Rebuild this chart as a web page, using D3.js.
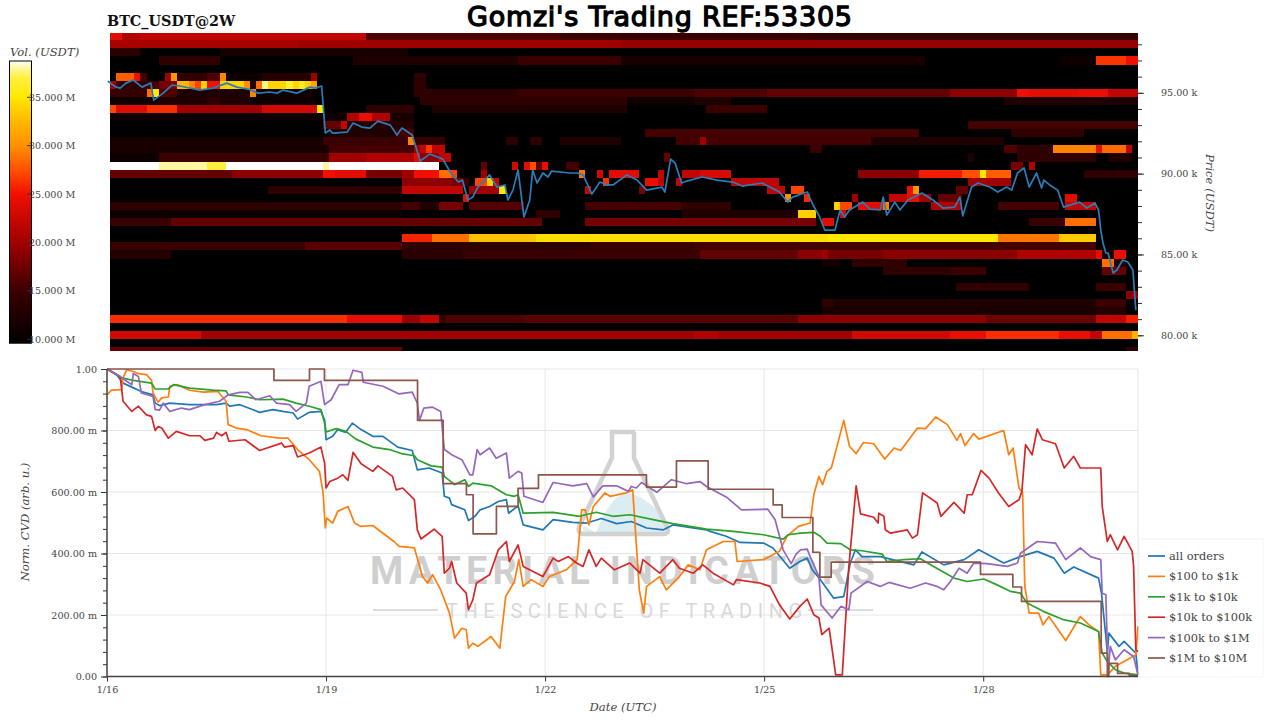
<!DOCTYPE html>
<html>
	<head>
		<meta charset="utf-8">
		<script src="https://cdn.jsdelivr.net/npm/d3@7"></script>
		<style>
			html, body { margin: 0; padding: 0; background: #fff; }
			text { font-family: "DejaVu Serif"; fill: #444; }
			.domain { display: none; }
			.tick line { stroke: #333; }
		</style>
	</head>
	<body> <svg width="1280" height="720"></svg> </body>

	<script>
		// x values are days since 1/16 UTC, y values are normalised CVD
		var xTicks = [0, 3, 6, 9, 12],
			xTickLabels = ["1/16", "1/19", "1/22", "1/25", "1/28"],
			cvdTicks = [0, 0.2, 0.4, 0.6, 0.8, 1],
			cvdTickLabels = ["0.00", "200.00 m", "400.00 m", "600.00 m", "800.00 m", "1.00"],
			priceTicks = [80, 85, 90, 95],
			priceTickLabels = ["80.00 k", "85.00 k", "90.00 k", "95.00 k"],
			volTicks = [10, 15, 20, 25, 30, 35],
			volTickLabels = ["10.000 M", "15.000 M", "20.000 M", "25.000 M", "30.000 M", "35.000 M"];

		var seriesNames = ["all orders", "$100 to $1k", "$1k to $10k", "$10k to $100k", "$100k to $1M", "$1M to $10M"],
			seriesColors = ["#1f77b4", "#ff7f0e", "#2ca02c", "#d62728", "#9467bd", "#8c564b"];

		var allOrders = [[0,1],[.13,.982],[.22,.954],[.34,.941],[.47,.927],[.63,.916],[.66,.889],[.72,.881],[.86,.889],[1.13,.884],[1.5,.884],[1.63,.889],[1.68,.879],[1.82,.884],[2.09,.859],[2.27,.868],[2.41,.862],[2.55,.857],[2.61,.837],[2.77,.859],[2.93,.862],[2.98,.835],[3,.77],[3.09,.781],[3.16,.803],[3.27,.794],[3.36,.824],[3.48,.803],[3.64,.781],[3.78,.781],[3.98,.746],[4.18,.735],[4.25,.672],[4.41,.678],[4.59,.662],[4.62,.586],[4.69,.58],[4.72,.559],[4.9,.542],[4.95,.507],[5.04,.521],[5.11,.542],[5.24,.553],[5.36,.569],[5.47,.575],[5.5,.531],[5.63,.555],[5.7,.493],[5.97,.477],[6.11,.51],[6.38,.501],[6.57,.499],[6.77,.514],[6.98,.497],[7.18,.504],[7.39,.483],[7.62,.477],[7.75,.493],[8.21,.477],[8.26,.472],[8.48,.456],[8.67,.436],[8.99,.434],[9.12,.418],[9.35,.352],[9.49,.374],[9.59,.385],[9.66,.347],[9.77,.315],[9.95,.255],[10.09,.26],[10.18,.369],[10.25,.412],[10.34,.39],[10.59,.39],[11.05,.363],[11.16,.405],[11.46,.363],[11.74,.38],[11.94,.412],[12.28,.369],[12.51,.39],[12.74,.407],[12.97,.385],[13.11,.336],[13.24,.356],[13.58,.32],[13.62,.271],[13.68,.13],[13.7,.076],[13.72,.141],[13.86,.098],[13.93,.114],[14.09,.076],[14.12,.005]];

		var retail = [[0,.916],[.06,.931],[.2,.933],[.22,.971],[.27,.998],[.36,.992],[.43,.985],[.54,.982],[.61,.963],[.63,.922],[.7,.892],[.75,.906],[.84,.909],[.86,.944],[.97,.949],[1.13,.931],[1.32,.925],[1.52,.927],[1.63,.895],[1.66,.819],[1.77,.808],[1.91,.803],[2.11,.783],[2.36,.775],[2.48,.775],[2.61,.738],[2.77,.705],[2.91,.667],[2.96,.597],[2.99,.483],[3.01,.515],[3.09,.499],[3.16,.537],[3.3,.553],[3.39,.499],[3.48,.488],[3.64,.491],[3.78,.466],[3.93,.439],[4,.423],[4.21,.418],[4.32,.325],[4.39,.304],[4.46,.331],[4.57,.282],[4.69,.206],[4.76,.125],[4.86,.157],[4.92,.152],[4.95,.092],[5.01,.108],[5.08,.098],[5.26,.13],[5.38,.092],[5.46,.26],[5.58,.309],[5.64,.38],[5.7,.293],[5.81,.315],[5.97,.293],[6.06,.325],[6.29,.347],[6.44,.38],[6.5,.542],[6.55,.542],[6.6,.493],[6.66,.553],[6.82,.597],[6.89,.586],[7.11,.597],[7.2,.607],[7.29,.282],[7.35,.206],[7.39,.293],[7.57,.325],[7.66,.282],[7.84,.325],[7.96,.363],[8.12,.347],[8.21,.412],[8.44,.439],[8.6,.439],[8.63,.374],[8.99,.38],[9.21,.407],[9.31,.456],[9.47,.488],[9.63,.499],[9.68,.591],[9.75,.651],[9.8,.624],[9.86,.667],[9.92,.678],[10.09,.833],[10.17,.748],[10.26,.725],[10.36,.761],[10.5,.757],[10.65,.707],[10.78,.743],[10.87,.735],[11.1,.808],[11.21,.806],[11.35,.844],[11.51,.819],[11.64,.768],[11.69,.79],[11.75,.751],[11.87,.79],[11.94,.772],[12.28,.8],[12.35,.721],[12.41,.743],[12.49,.613],[12.54,.597],[12.57,.293],[12.63,.206],[12.76,.206],[12.82,.168],[12.9,.195],[13.13,.117],[13.33,.195],[13.45,.168],[13.58,.146],[13.61,.005],[13.7,.005],[13.81,.033],[13.93,.049],[14.09,.071],[14.12,.163]];

		var small = [[0,1],[.2,.971],[.36,.963],[.61,.954],[.66,.935],[.84,.935],[.91,.949],[1.13,.938],[1.45,.931],[1.63,.929],[1.66,.916],[1.91,.909],[2.09,.9],[2.41,.902],[2.59,.889],[2.77,.879],[2.93,.868],[2.98,.824],[3,.795],[3.14,.806],[3.27,.797],[3.41,.772],[3.64,.746],[3.87,.738],[4.03,.725],[4.21,.718],[4.25,.705],[4.44,.685],[4.59,.681],[4.62,.651],[4.76,.624],[4.9,.64],[4.95,.618],[5.01,.629],[5.26,.62],[5.47,.591],[5.58,.586],[5.63,.591],[5.7,.531],[6.11,.534],[6.47,.521],[6.7,.534],[6.93,.521],[7.16,.526],[7.48,.51],[7.75,.497],[8.21,.479],[8.58,.472],[8.99,.461],[9.26,.447],[9.33,.461],[9.5,.466],[9.68,.469],[9.77,.456],[9.86,.434],[10.05,.432],[10.18,.412],[10.34,.409],[10.62,.398],[10.68,.374],[10.91,.38],[11.14,.383],[11.32,.358],[11.6,.32],[11.78,.309],[12.01,.317],[12.19,.298],[12.37,.277],[12.51,.271],[12.6,.239],[12.83,.211],[13.11,.184],[13.33,.174],[13.58,.146],[13.63,.076],[13.7,.049],[13.81,.022],[13.93,.011],[14.12,.005]];

		var medium = [[0,1],[.18,.976],[.22,.895],[.34,.862],[.43,.879],[.54,.851],[.61,.846],[.66,.8],[.7,.813],[.75,.808],[.84,.775],[.95,.797],[1.13,.783],[1.27,.783],[1.34,.768],[1.46,.775],[1.5,.794],[1.57,.783],[1.63,.794],[1.67,.765],[1.89,.77],[2.09,.735],[2.39,.759],[2.43,.746],[2.55,.751],[2.61,.714],[2.77,.727],[2.93,.746],[2.98,.694],[3,.613],[3.05,.634],[3.16,.645],[3.23,.656],[3.3,.638],[3.37,.729],[3.48,.692],[3.64,.667],[3.71,.685],[3.91,.651],[3.96,.607],[4.05,.613],[4.21,.575],[4.25,.477],[4.3,.447],[4.48,.479],[4.59,.456],[4.62,.336],[4.69,.352],[4.72,.374],[4.79,.304],[4.92,.271],[4.95,.217],[5.01,.249],[5.06,.304],[5.24,.331],[5.36,.412],[5.47,.439],[5.51,.374],[5.63,.428],[5.7,.358],[5.97,.325],[6.11,.385],[6.18,.374],[6.32,.39],[6.43,.369],[6.52,.358],[6.6,.412],[6.7,.358],[6.77,.385],[6.95,.347],[7.16,.369],[7.3,.336],[7.34,.38],[7.57,.336],[7.75,.38],[7.84,.352],[8.03,.336],[8.16,.363],[8.3,.336],[8.58,.298],[8.62,.315],[8.94,.304],[9.08,.293],[9.21,.233],[9.35,.187],[9.49,.228],[9.59,.252],[9.68,.201],[9.75,.19],[9.79,.136],[9.89,.157],[9.98,.005],[10.07,.005],[10.16,.358],[10.21,.488],[10.26,.62],[10.32,.529],[10.5,.518],[10.56,.499],[10.57,.531],[10.64,.521],[10.66,.477],[10.73,.466],[10.96,.477],[11.03,.45],[11.1,.461],[11.17,.597],[11.37,.564],[11.42,.521],[11.6,.566],[11.74,.531],[11.78,.591],[11.85,.591],[11.97,.67],[12.08,.645],[12.21,.597],[12.35,.553],[12.49,.575],[12.53,.602],[12.58,.754],[12.67,.721],[12.74,.805],[12.81,.77],[12.99,.757],[13.11,.678],[13.24,.716],[13.33,.678],[13.61,.678],[13.63,.553],[13.7,.439],[13.74,.461],[13.84,.412],[13.93,.456],[14.04,.407],[14.06,.358],[14.09,.087],[14.12,.081]];

		var large = [[0,1],[.18,.976],[.27,.96],[.34,.949],[.36,.985],[.43,.976],[.47,.922],[.63,.911],[.66,.868],[.72,.866],[.77,.889],[.86,.862],[1.02,.873],[1.13,.868],[1.34,.884],[1.54,.895],[1.66,.916],[1.82,.924],[1.93,.924],[2.04,.9],[2.23,.913],[2.32,.889],[2.5,.884],[2.59,.862],[2.73,.889],[2.77,.944],[2.93,.96],[2.98,.884],[3.07,.9],[3.18,.949],[3.3,.949],[3.37,.996],[3.49,.989],[3.51,.957],[3.78,.944],[4,.919],[4.18,.925],[4.25,.889],[4.28,.833],[4.34,.873],[4.46,.876],[4.57,.862],[4.62,.738],[4.69,.727],[4.72,.721],[4.86,.705],[4.97,.656],[5.01,.656],[5.07,.738],[5.11,.721],[5.24,.743],[5.33,.71],[5.47,.727],[5.51,.645],[5.63,.667],[5.68,.662],[5.71,.586],[5.97,.566],[6.11,.631],[6.38,.62],[6.57,.627],[6.66,.584],[6.79,.62],[6.98,.62],[7.14,.602],[7.18,.618],[7.25,.613],[7.32,.631],[7.53,.599],[7.73,.64],[7.94,.627],[8.12,.634],[8.21,.618],[8.48,.584],[8.69,.542],[9.05,.544],[9.15,.51],[9.26,.412],[9.37,.367],[9.44,.399],[9.5,.412],[9.59,.414],[9.63,.39],[9.75,.325],[9.78,.233],[9.93,.19],[10.05,.228],[10.16,.217],[10.19,.271],[10.41,.309],[10.59,.293],[10.71,.306],[11,.287],[11.21,.304],[11.37,.293],[11.46,.282],[11.55,.309],[11.67,.352],[11.78,.336],[11.87,.369],[12.05,.367],[12.33,.358],[12.47,.369],[12.51,.401],[12.74,.439],[12.99,.434],[13.13,.38],[13.33,.418],[13.47,.39],[13.61,.38],[13.63,.271],[13.68,.266],[13.71,.005],[13.74,.098],[13.81,.054],[13.93,.087],[14.06,.065],[14.12,.005]];

		// brown one is stepped, each pair holds until the next one
		var whale = [[0,1],[2.286,.963],[2.773,1],[2.978,.963],[4.253,.833],[4.604,.627],[4.922,.591],[5.014,.464],[5.333,.553],[5.63,.612],[5.909,.656],[7.388,.616],[7.799,.701],[8.233,.609],[9.123,.558],[9.247,.517],[9.667,.404],[9.763,.323],[9.918,.372],[11.963,.332],[12.406,.291],[12.525,.244],[13.616,.076],[13.7,0],[13.72,.043],[13.84,.01],[14,.003],[14.12,.003]];

		var seriesValues = [allOrders, retail, small, medium, large, whale];

		var priceLine = [[.01,95.73],[.11,95.38],[.18,95.29],[.26,95.6],[.36,95.79],[.48,95.35],[.6,95.6],[.64,94.55],[.77,94.98],[.89,95.48],[1,95.42],[1.27,95.17],[1.45,95.29],[1.64,95.6],[1.78,95.35],[1.93,95.23],[2.07,94.98],[2.23,95.05],[2.33,94.98],[2.41,95.17],[2.6,94.98],[2.78,95.35],[2.85,95.29],[2.94,95.42],[2.99,92.51],[3.05,92.7],[3.09,92.51],[3.29,92.57],[3.37,93.13],[3.49,92.88],[3.6,92.82],[3.71,93.25],[3.88,93],[3.97,92.39],[4.04,92.82],[4.18,92.39],[4.29,90.78],[4.42,91.21],[4.6,90.9],[4.7,90.1],[4.81,89.48],[4.87,89.6],[4.94,88.37],[5.01,88.55],[5.07,89.11],[5.24,89.92],[5.34,89.17],[5.45,89.3],[5.49,88.37],[5.56,88.98],[5.63,90.22],[5.71,87.32],[5.79,88.37],[5.83,90.22],[5.89,89.42],[5.97,90.04],[6.04,89.79],[6.09,90.16],[6.34,90.04],[6.44,90.04],[6.52,89.92],[6.64,88.74],[6.75,89.48],[6.85,89.3],[6.93,89.3],[7.12,89.92],[7.26,89.6],[7.39,88.98],[7.6,89.17],[7.64,88.86],[7.72,90.9],[7.78,90.65],[7.87,89.42],[7.94,89.54],[8.15,89.79],[8.35,89.6],[8.57,89.48],[8.7,89.23],[8.97,89.42],[9.21,88.86],[9.32,88.24],[9.39,88.55],[9.59,88.86],[9.67,88.06],[9.76,87.32],[9.83,86.51],[9.97,86.51],[10.04,87.75],[10.1,87.32],[10.17,87.75],[10.35,88.24],[10.45,87.81],[10.59,87.75],[10.63,88.55],[10.68,87.44],[10.79,88.24],[10.86,87.75],[10.97,88.37],[11.16,88.8],[11.31,88.37],[11.45,87.87],[11.61,87.93],[11.68,88.55],[11.72,87.38],[11.84,89.17],[11.93,89.42],[12.09,89.17],[12.2,88.86],[12.32,89.17],[12.39,88.98],[12.47,90.04],[12.56,90.35],[12.63,89.17],[12.73,90.04],[12.8,89.11],[12.83,89.6],[12.91,89.3],[13.02,88.98],[13.1,87.93],[13.32,88.24],[13.42,87.87],[13.53,88.18],[13.58,87.75],[13.61,86.51],[13.64,85.71],[13.68,85.09],[13.71,85.09],[13.78,83.85],[13.83,84.04],[13.91,84.66],[13.98,84.53],[14.05,84.04],[14.09,81.56]];

		// heat rows, 500 USD high. Each run is [2h column it starts on, volume in M], holds until next run
		var rowPrices = [98.5, 98, 97.5, 97, 96.5, 96, 95.5, 95, 94.5, 94, 93.5, 93, 92.5, 92, 91.5, 91, 90.5, 90, 89.5, 89, 88.5, 88, 87.5, 87, 86.5, 86, 85.5, 85, 84.5, 84, 83.5, 83, 82.5, 82, 81.5, 81, 80.5, 80, 79.5, 79];

		var rowRuns = [
			[[0,24],[2,21],[5,22],[42,16],[74,15],[115,14.5]],
			[[0,20.5],[31,20],[84,19.5]],
			[[0,13.5],[5,10],[18,12],[49,10]],
			[[0,10],[8,14],[18,10],[40,12.5],[67,15],[84,12],[134,10],[156,11],[162,26.5],[167,25]],
			[[0,10]],
			[[0,10],[1,28],[4,25],[5,15.5],[6,10],[9,20],[10,30.5],[11,14],[16,16],[18,29.5],[19,11],[25,13],[33,20],[34,10],[50,14],[52,10]],
			[[0,20],[1,14],[6,15.5],[8,18],[11,32.5],[13,29.5],[14,27],[15,33.8],[16,25],[18,34],[22,30],[23,12.5],[24,28.7],[25,37.8],[26,34],[29,36.5],[30,34],[31,36],[32,34],[33,31],[34,10],[50,14],[52,10]],
			[[0,14.5],[6,28.7],[7,35.5],[8,16],[11,12.5],[23,29.5],[24,11],[34,10],[50,14],[53,13.5],[67,15],[96,16],[108,17],[138,19],[149,24.8],[151,24],[159,24.5],[164,22]],
			[[0,11],[8,12.5],[16,14],[18,12.5],[23,11],[34,10],[51,14],[85,11],[96,12.5],[102,10],[147,12.5]],
			[[0,27.2],[1,24],[6,26.2],[11,20],[25,23],[34,35],[35,10],[42,14],[50,10],[53,12.5],[85,10],[98,15],[108,10]],
			[[0,11],[39,21],[41,24.5],[43,21],[46,12],[50,10]],
			[[0,10],[35,17],[38,22],[39,13],[50,10],[141,15.5]],
			[[0,10],[36,12.5],[47,15.5],[50,10],[88,15.5],[133,10],[148,14],[160,10]],
			[[0,12],[35,15],[49,29.5],[50,14.5],[55,10],[65,14],[67,10],[69,14],[71,10],[74,12.5],[84,10],[93,15.5],[97,20],[98,15.5],[125,12.5],[147,10]],
			[[0,12],[36,15.5],[50,20],[51,22],[52,26.5],[53,22],[55,10],[115,15],[117,10],[147,16],[149,14],[155,29.5],[162,24.5],[163,28.5],[167,22],[168,10]],
			[[0,11],[8,15],[36,20],[42,21],[50,24],[51,19],[54,22],[56,10],[91,17],[92,10],[141,12.5],[142,10],[149,14],[162,10],[164,12.5],[168,10]],
			[[0,38.7],[8,38],[16,37],[19,38.7],[35,38],[36,38.7],[54,10],[61,17],[62,10],[66,23],[67,10],[68,24],[69,27.5],[70,17],[71,24.5],[72,10],[75,15.5],[77,10],[148,18],[150,10],[151,21],[152,10]],
			[[0,17],[20,19],[35,25],[37,24],[42,18],[48,20],[50,25],[54,28.7],[56,27],[57,10],[61,20],[62,10],[77,29],[78,10],[80,23],[81,10],[82,24],[87,10],[90,22],[91,10],[94,22],[97,23.5],[102,10],[123,19],[133,25.5],[140,27.5],[143,35],[144,28],[148,10],[160,14]],
			[[0,10],[48,19],[56,18],[58,15],[59,10],[60,27],[62,33.8],[63,22],[64,10],[81,26.5],[82,10],[88,24.5],[90,22],[91,10],[93,22],[94,10],[102,22],[110,10],[141,20],[148,10]],
			[[0,10],[26,14],[48,22],[58,10],[59,20],[64,35],[65,10],[78,22],[79,10],[87,18],[88,10],[108,22],[111,10],[112,27],[114,10],[131,24.5],[132,30.5],[133,10],[139,17],[141,10]],
			[[0,10],[58,24.5],[59,10],[111,30],[112,10],[114,26],[115,10],[122,20],[123,10],[128,22],[131,24.5],[133,20],[135,10],[136,17],[140,10],[157,24],[159,10]],
			[[0,14],[48,15.5],[51,12.5],[54,18],[58,10],[59,16.3],[68,10],[78,15.5],[94,14],[102,10],[119,33.8],[120,27.2],[122,10],[123,24],[127,29.5],[128,10],[135,21],[140,10],[146,15.5],[156,10],[157,22],[162,10]],
			[[0,11],[48,10],[70,14],[74,10],[94,12.5],[113,33.8],[116,10],[120,23],[121,10]],
			[[0,14.8],[10,17],[71,10],[78,18],[116,10],[117,24],[119,10],[151,14.8],[157,28.7],[162,10]],
			[[0,10]],
			[[0,10],[48,25.8],[53,28.7],[59,33],[70,34.5],[118,35],[146,29],[156,33.5],[162,10]],
			[[0,15],[32,16.5],[48,14],[79,15],[96,15.5],[162,10]],
			[[0,13],[10,10],[48,13.5],[58,15],[97,17],[113,19],[117,20],[118,18],[127,19],[149,21],[162,24],[163,12],[165,24.5],[167,10]],
			[[0,10],[117,11.5],[120,10],[122,14],[131,10],[163,28.7],[165,13],[167,10]],
			[[0,10],[127,14],[138,15],[144,10],[163,17],[167,10]],
			[[0,10]],
			[[0,10],[139,14],[151,10],[162,15],[167,10]],
			[[0,10],[167,19]],
			[[0,10],[117,14],[119,12.5],[162,15],[167,10]],
			[[0,10],[117,12],[162,13],[167,10]],
			[[0,26.2],[39,24.3],[48,19.5],[51,22],[54,14],[55,16],[68,16.5],[113,19],[144,17.5],[162,22],[167,25.5]],
			[[0,10]],
			[[0,23],[15,20],[96,21],[100,20],[122,23],[138,24.5],[144,26.2],[156,24.5],[161,22],[163,28.7],[168,32]],
			[[0,10]],
			[[0,17],[48,10],[167,14]]
		];

		var svg = d3.select("svg"),
			dayMax = 14.12,
			heatStart = 0.041,
			heatCols = 169,
			heatLeft = 110,
			plotLeft = 107,
			plotRight = 1138,
			heatTop = 33,
			heatBottom = 351,
			cvdTop = 369,
			cvdBottom = 676.5,
			tickFont = "9.6px",
			titleFont = "11.6px";

		var x = d3.scaleLinear().domain([0, dayMax]).range([plotLeft, plotRight]);
		var price = d3.scaleLinear().domain([80, 95]).range([335.3, 92.8]);
		var cvd = d3.scaleLinear().domain([0, 1]).range([cvdBottom, cvdTop]);
		var volAxis = d3.scaleLinear().domain([10, 35]).range([339.3, 97.3]);

		// hand matched to the colorbar
		var volStops = [9.7, 15, 20, 25, 27.5, 30, 32.5, 35, 37, 38, 38.7],
			volColors = ["#000000", "#3a0000", "#a00000", "#f01000", "#ff5000", "#ff9000", "#ffb800", "#ffe800", "#fff040", "#fff8a0", "#ffffff"];
		var color = d3.scaleLinear().domain(volStops).range(volColors).clamp(true);

		var columnX = function(c) { return x(heatStart + c / 12); };

		// Title and top left label
		svg.append("text")
			.text("Gomzi's Trading REF:53305")
			.attr("x", 467).attr("y", 26)
			.attr("textLength", 385).attr("lengthAdjust", "spacing")
			.style("font-family", "'DejaVu Sans'")
			.style("font-size", "27px")
			.style("fill", "#000")
			.style("stroke", "#000")
			.style("stroke-width", 1.3);

		svg.append("text")
			.text("BTC_USDT@2W")
			.attr("x", 107).attr("y", 26)
			.style("font-size", "14.4px")
			.style("font-weight", "bold")
			.style("fill", "#111");

		// Heatmap
		var defs = svg.append("defs");
		defs.append("clipPath").attr("id", "heatClip").append("rect")
			.attr("x", heatLeft).attr("y", heatTop)
			.attr("width", plotRight - heatLeft).attr("height", heatBottom - heatTop);

		var heat = svg.append("g").attr("clip-path", "url(#heatClip)");
		heat.append("rect")
			.attr("x", heatLeft).attr("y", heatTop)
			.attr("width", plotRight - heatLeft).attr("height", heatBottom - heatTop)
			.attr("fill", "#000");

		var heatCells = [];
		rowRuns.forEach(function(runs, r) {
			runs.forEach(function(run, i) {
				var next = i + 1 < runs.length ? runs[i + 1][0] : heatCols;
				heatCells.push({ price: rowPrices[r], from: run[0], to: next, vol: run[1] });
			});
		});

		heat.selectAll("rect.cell")
			.data(heatCells.filter(function(d) { return d.vol > 10; }))
			.join("rect")
			.attr("class", "cell")
			.attr("x", function(d) { return columnX(d.from); })
			.attr("width", function(d) { return columnX(d.to) - columnX(d.from); })
			.attr("y", function(d) { return price(d.price + 0.25); })
			.attr("height", function(d) { return price(d.price - 0.25) - price(d.price + 0.25); })
			.attr("fill", function(d) { return color(d.vol); })
			.attr("shape-rendering", "crispEdges");

		var priceLineGen = d3.line()
			.x(function(d) { return x(d[0]); })
			.y(function(d) { return price(d[1]); });

		svg.append("path")
			.datum(priceLine)
			.attr("d", priceLineGen)
			.attr("fill", "none")
			.attr("stroke", "#2b7db8")
			.attr("stroke-linejoin", "round")
			.attr("stroke-width", 1.7);

		// Price axis on the right
		var priceAxisG = svg.append("g").attr("transform", "translate(" + plotRight + ",0)");
		priceAxisG.call(d3.axisRight(price)
			.tickValues(d3.range(80, 99))
			.tickSize(4)
			.tickFormat(""));
		var priceMajor = svg.append("g").attr("transform", "translate(" + plotRight + ",0)");
		priceMajor.call(d3.axisRight(price)
			.tickValues(priceTicks)
			.tickSize(6)
			.tickPadding(17)
			.tickFormat(function(d, i) { return priceTickLabels[i]; }));
		priceMajor.selectAll("text").style("font-size", tickFont);

		svg.append("text")
			.text("Price (USDT)")
			.attr("transform", "translate(1206,193) rotate(90)")
			.attr("text-anchor", "middle")
			.style("font-size", titleFont)
			.style("font-style", "italic");

		// Colorbar, painted from the same colour stops
		var gradient = defs.append("linearGradient")
			.attr("id", "volGradient")
			.attr("x1", 0).attr("x2", 0).attr("y1", 1).attr("y2", 0);
		gradient.selectAll("stop")
			.data(volStops)
			.join("stop")
			.attr("offset", function(d) { return (d - 9.7) / (38.7 - 9.7); })
			.attr("stop-color", function(d, i) { return volColors[i]; });

		svg.append("rect")
			.attr("x", 9.5).attr("y", 61)
			.attr("width", 22).attr("height", volAxis(9.6) - 61)
			.attr("fill", "url(#volGradient)")
			.attr("stroke", "#000")
			.attr("stroke-width", 1);

		svg.selectAll("line.volTick")
			.data(volTicks)
			.join("line")
			.attr("class", "volTick")
			.attr("x1", 27).attr("x2", 31)
			.attr("y1", function(d) { return volAxis(d); })
			.attr("y2", function(d) { return volAxis(d); })
			.attr("stroke", "#333");

		svg.selectAll("text.volLabel")
			.data(volTicks)
			.join("text")
			.attr("class", "volLabel")
			.text(function(d, i) { return volTickLabels[i]; })
			.attr("x", 29)
			.attr("y", function(d) { return volAxis(d) + 3.5; })
			.style("font-size", tickFont);

		svg.append("text")
			.text("Vol. (USDT)")
			.attr("x", 10).attr("y", 56)
			.style("font-size", titleFont)
			.style("font-style", "italic");

		// Lower panel grid
		var grid = svg.append("g");
		grid.selectAll("line.h")
			.data(cvdTicks)
			.join("line")
			.attr("class", "h")
			.attr("x1", plotLeft).attr("x2", plotRight)
			.attr("y1", function(d) { return cvd(d); })
			.attr("y2", function(d) { return cvd(d); })
			.attr("stroke", "#e6e6e6");
		grid.selectAll("line.v")
			.data(xTicks.concat([dayMax]))
			.join("line")
			.attr("class", "v")
			.attr("x1", function(d) { return x(d); })
			.attr("x2", function(d) { return x(d); })
			.attr("y1", cvdTop).attr("y2", cvdBottom)
			.attr("stroke", "#e6e6e6");

		// Watermark sits behind the lines
		var mark = svg.append("g");
		mark.append("path")
			.attr("d", "M596 533 Q604 510 617 497 Q628 490 640 497 Q650 503 660 512 L668 528 Q668 532 664 532 L586 532 Q582 532 584 526 Z")
			.attr("fill", "#dcedf1");
		mark.append("path")
			.attr("d", "M610 432 H635 M612 432 V458 L579 527 Q577 534 585 534 H663 Q670 534 667 527 L634 458 V432")
			.attr("fill", "none")
			.attr("stroke", "#d2d2d2")
			.attr("stroke-width", 4.5);
		mark.append("text")
			.text("MATERIAL INDICATORS")
			.attr("x", 370).attr("y", 584)
			.attr("textLength", 505).attr("lengthAdjust", "spacing")
			.style("font-family", "Roboto")
			.style("font-weight", "bold")
			.style("font-size", "38px")
			.style("fill", "#cfcfcf");
		mark.append("text")
			.text("THE SCIENCE OF TRADING")
			.attr("x", 446).attr("y", 618)
			.attr("textLength", 356).attr("lengthAdjust", "spacing")
			.style("font-family", "Roboto")
			.style("font-size", "20px")
			.style("fill", "#d8d8d8");
		mark.selectAll("line")
			.data([[373, 438], [808, 873]])
			.join("line")
			.attr("x1", function(d) { return d[0]; })
			.attr("x2", function(d) { return d[1]; })
			.attr("y1", 610).attr("y2", 610)
			.attr("stroke", "#d2d2d2")
			.attr("stroke-width", 1.5);

		// CVD lines
		var cvdLine = d3.line()
			.x(function(d) { return x(d[0]); })
			.y(function(d) { return cvd(d[1]); });
		var cvdStep = d3.line()
			.curve(d3.curveStepAfter)
			.x(function(d) { return x(d[0]); })
			.y(function(d) { return cvd(d[1]); });

		svg.selectAll("path.cvd")
			.data(seriesValues)
			.join("path")
			.attr("class", "cvd")
			.attr("d", function(d, i) { return i == 5 ? cvdStep(d) : cvdLine(d); })
			.attr("fill", "none")
			.attr("stroke", function(d, i) { return seriesColors[i]; })
			.attr("stroke-linejoin", "round")
			.attr("stroke-width", 1.7);

		// Lower panel axes
		var leftMinor = svg.append("g").attr("transform", "translate(" + plotLeft + ",0)");
		leftMinor.call(d3.axisLeft(cvd)
			.tickValues(d3.range(0, 1.01, 0.04))
			.tickSize(4)
			.tickFormat(""));
		var leftMajor = svg.append("g").attr("transform", "translate(" + plotLeft + ",0)");
		leftMajor.call(d3.axisLeft(cvd)
			.tickValues(cvdTicks)
			.tickSize(6)
			.tickPadding(4)
			.tickFormat(function(d, i) { return cvdTickLabels[i]; }));
		leftMajor.selectAll("text").style("font-size", tickFont);

		var bottomAxis = svg.append("g").attr("transform", "translate(0," + cvdBottom + ")");
		bottomAxis.call(d3.axisBottom(x)
			.tickValues(xTicks)
			.tickSize(5)
			.tickPadding(5)
			.tickFormat(function(d, i) { return xTickLabels[i]; }));
		bottomAxis.selectAll("text").style("font-size", tickFont);

		svg.append("line")
			.attr("x1", plotLeft).attr("x2", plotRight)
			.attr("y1", cvdBottom).attr("y2", cvdBottom)
			.attr("stroke", "#444").attr("stroke-width", 1.5);
		svg.append("line")
			.attr("x1", plotLeft).attr("x2", plotLeft)
			.attr("y1", cvdTop).attr("y2", cvdBottom)
			.attr("stroke", "#444").attr("stroke-width", 1.5);

		svg.append("text")
			.text("Date (UTC)")
			.attr("x", 623).attr("y", 711)
			.attr("text-anchor", "middle")
			.style("font-size", titleFont)
			.style("font-style", "italic");

		svg.append("text")
			.text("Norm. CVD (arb. u.)")
			.attr("transform", "translate(29,522) rotate(-90)")
			.attr("text-anchor", "middle")
			.style("font-size", titleFont)
			.style("font-style", "italic");

		// Legend
		svg.append("rect")
			.attr("x", 1139).attr("y", 539)
			.attr("width", 124).attr("height", 138)
			.attr("fill", "#fff")
			.attr("stroke", "#f4f4f4");

		var legend = d3.scaleLinear().domain([0, 5]).range([556, 658]);
		var items = svg.selectAll("g.item")
			.data(seriesNames)
			.join("g")
			.attr("class", "item")
			.attr("transform", function(d, i) { return "translate(1148," + legend(i) + ")"; });
		items.append("line")
			.attr("x2", 17)
			.attr("stroke", function(d, i) { return seriesColors[i]; })
			.attr("stroke-width", 1.7);
		items.append("text")
			.text(function(d) { return d; })
			.attr("x", 21).attr("y", 4)
			.style("font-size", "11.4px");
	</script>
</html>
